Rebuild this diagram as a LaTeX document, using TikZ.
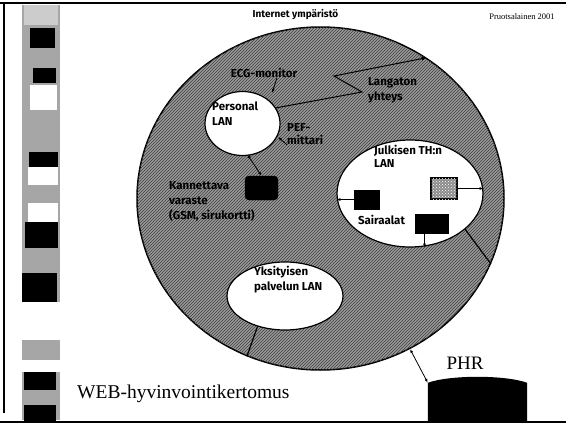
\documentclass[tikz,border=0pt]{standalone}
\usepackage{fontspec}
\setmainfont{Liberation Serif}
\newfontfamily\lblfont{Fira Sans}
\usetikzlibrary{shapes.geometric, arrows.meta, patterns}
\begin{document}
\begin{tikzpicture}[x=1pt, y=-1pt,
  lbl/.style={font=\lblfont\bfseries\fontsize{11.5}{15}\selectfont, align=left, inner sep=0pt},
  ttl/.style={font=\lblfont\bfseries\fontsize{10}{12}\selectfont, inner sep=0pt},
  lan/.style={ellipse, draw=black, line width=1.2pt, fill=white, inner sep=0pt},
  arr/.style={-{Latex[length=4pt,width=3pt]}, line width=0.8pt},
  blk/.style={fill=black, draw=black, inner sep=0pt},
  edge/.style={line width=1.2pt}]
\useasboundingbox (0,0) rectangle (566,423);
\fill[white] (0,0) rectangle (566,423);

% left decorative strip
\fill[black!35] (22,5) rectangle (60,420);
\fill[black!20] (24,5) rectangle (58,25);
\fill[black] (30,28) rectangle (55,48);
\fill[black] (33,68) rectangle (56,83);
\fill[white] (30,85) rectangle (57,110);
\fill[black] (29,152) rectangle (58,167);
\fill[white] (28,167) rectangle (58,185);
\fill[white] (28,203) rectangle (58,222);
\fill[black] (25,222) rectangle (58,248);
\fill[black] (22,273) rectangle (57,302);
\fill[white] (22,302) rectangle (60,340);
\fill[white] (22,360) rectangle (60,372);
\fill[black] (24,372) rectangle (56,390);
\fill[black] (24,405) rectangle (56,423);

% frame
\draw[line width=2.5pt] (0,3) -- (566,3);
\draw[line width=2pt] (4,3) -- (4,413);
\draw[line width=2pt] (0,421.5) -- (566,421.5);

% titles
\node[ttl] (title) at (295.5,15) {Internet ympäristö};
\node[font=\fontsize{8.5}{9}\selectfont, inner sep=0pt] (auth) at (522,17) {Pruotsalainen 2001};

% big internet circle
\node[ellipse, draw=black, line width=1.5pt, fill=black!40,
      postaction={pattern=north east lines, pattern color=black!75},
      minimum width=367pt, minimum height=343pt, inner sep=0pt] (big) at (320.5,198.5) {};

% personal LAN
\node[lan, minimum width=75pt, minimum height=64pt] (plan) at (242.5,123.5) {};
\node[lbl, anchor=west] (plantxt) at (212,114) {Personal\\LAN};
\node[lbl] (ecg) at (264,73) {ECG-monitor};
\coordinate (ecgtip) at (272,93);
\draw[arr] ([xshift=13pt]ecg.south) -- (ecgtip);
\node[lbl, anchor=west, font=\lblfont\bfseries\fontsize{11.5}{13}\selectfont] (pef) at (287,134) {PEF-\\mittari};
\coordinate (peftip) at (278,137);
\draw[arr] (pef.south west) -- (peftip);

% wireless link
\coordinate (zb) at (362,92);
\coordinate (zc) at (334,76);
\draw[line width=1pt, -{Latex[length=5pt,width=4pt]}] (plan.25) -- (zb) -- (zc) -- (big.53.5);
\node[lbl, anchor=west] (lang) at (368,90) {Langaton\\yhteys};

% portable device
\node[blk, rounded corners=4pt, minimum width=33pt, minimum height=24pt] (dev) at (261.5,188) {};
\draw[{Circle[length=3pt]}-{Latex[length=4pt,width=3pt]}, line width=0.8pt] (plan.-80) -- (dev.north);
\node[lbl, anchor=west] (kan) at (169,202) {Kannettava\\varaste\\(GSM, sirukortti)};

% public health LAN
\node[lan, minimum width=146pt, minimum height=107pt] (pub) at (410,193.5) {};
\node[lbl, anchor=west, font=\lblfont\bfseries\fontsize{11.5}{13}\selectfont] (pubtxt) at (374,156.5) {Julkisen TH:n\\LAN};
\node[blk, minimum width=25pt, minimum height=19pt] (h1) at (366.5,199.5) {};
\node[draw=black, line width=2pt, fill=black!45,
      postaction={pattern=crosshatch dots, pattern color=white},
      minimum width=26pt, minimum height=21pt, inner sep=0pt] (h2) at (444,188.5) {};
\node[blk, minimum width=33pt, minimum height=19pt] (h3) at (431.5,223.5) {};
\node[lbl] (sair) at (381.5,220) {Sairaalat};
\draw[arr] (h1.west) -- (h1.west -| pub.west);
\draw[arr] (h2.east) -- (h2.east -| pub.east);
\draw[arr] ([xshift=-7pt]h3.south) -- ([xshift=-7pt]h3.south |- pub.south);
\draw[edge] (pub.-33) -- (big.-21.6);

% private LAN
\node[lan, minimum width=116pt, minimum height=68pt] (priv) at (285,296) {};
\node[lbl, anchor=west] (privtxt) at (254,279.5) {Yksityisen\\palvelun LAN};
\draw[edge] (priv.-132) -- (big.-115);

% PHR database
\node[font=\fontsize{19}{19}\selectfont, inner sep=0pt] (phrt) at (465,363) {PHR};
\node[inner sep=0pt, minimum width=99pt, minimum height=40pt] (db) at (477.5,403) {};
\fill[black] (db.north west) .. controls +(22,-8) and +(-22,-8) .. (db.north east)
  -- ([yshift=-3pt]db.south east) to[bend left=8] ([yshift=-3pt]db.south west) -- cycle;
\coordinate (bigphr) at (410,349);
\draw[{Latex[length=4pt,width=3pt]}-{Latex[length=4pt,width=3pt]}, line width=0.8pt] (db.north west) -- (bigphr);

\node[font=\fontsize{19.5}{20}\selectfont, anchor=west, inner sep=0pt] (web) at (77,394) {WEB-hyvinvointikertomus};
\end{tikzpicture}
\end{document}
